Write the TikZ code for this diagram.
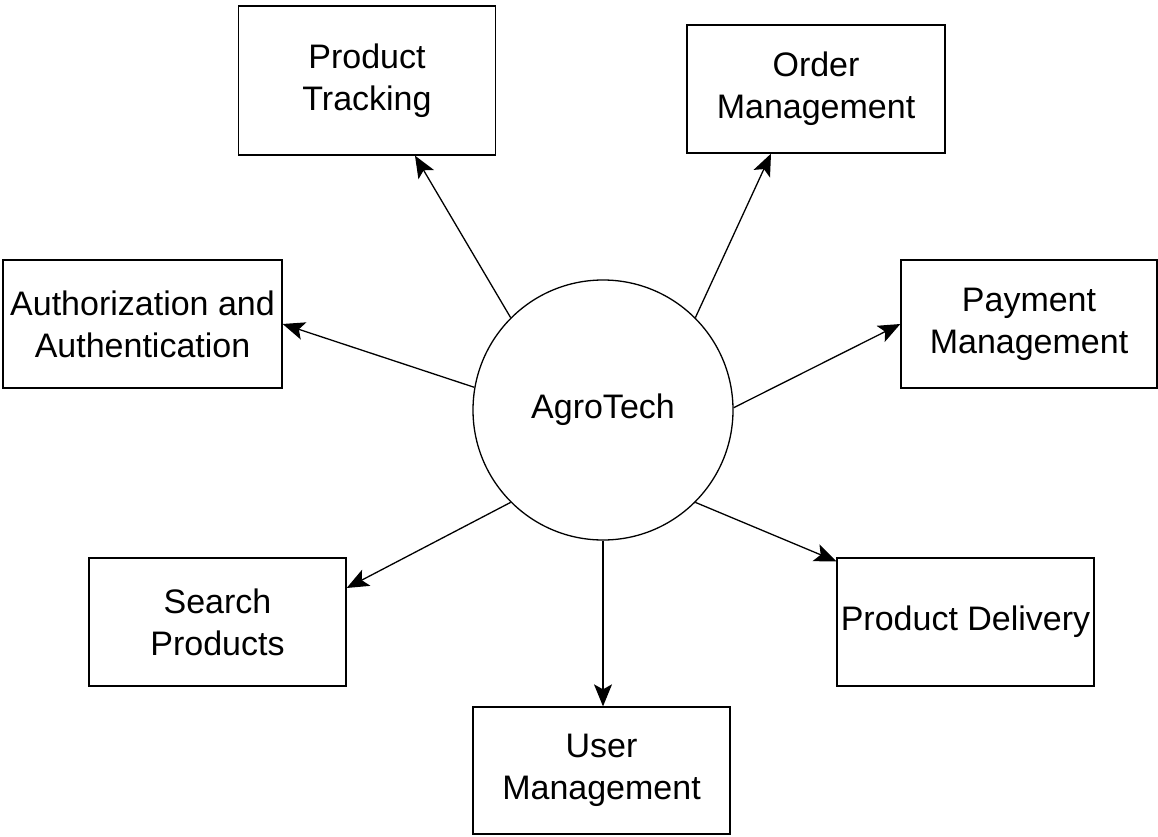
\documentclass[tikz,border=0pt]{standalone}
\usepackage{fontspec}
\setsansfont{Liberation Sans}
\usepackage{tikz}
\usetikzlibrary{arrows.meta,shapes,calc}

\begin{document}
\begin{tikzpicture}[x=1pt,y=-1pt,line width=1.3pt,
  arr/.style={-{Stealth[length=22pt,width=18pt,inset=5pt]}},
  box/.style={draw,rectangle,minimum width=257pt,minimum height=128pt,inner sep=1pt,align=center,font=\fontsize{34}{42}\selectfont}]
\sffamily
\useasboundingbox (0,0) rectangle (1158,837);

\node[shape=circle,draw,minimum size=260pt,font=\fontsize{34}{42}\selectfont] (hub) at (603,410) {AgroTech};

\node[box,minimum height=149pt] (pt) at (367,80.5) {Product\\Tracking};
\node[box,minimum width=258pt] (om) at (816,89) {Order\\Management};
\node[box,minimum width=279pt] (auth) at (142.5,324) {Authorization and\\Authentication};
\node[box,minimum width=256pt] (pay) at (1029,324) {Payment\\Management};
\node[box] (srch) at (217.5,622) {Search\\Products};
\node[box] (del) at (965.5,622) {Product Delivery};
\node[box,minimum height=127pt] (usr) at (601.5,770.5) {User\\Management};

\draw[arr] (hub.135) -- ([xshift=48pt]pt.south);
\draw[arr] (hub.45) -- ([xshift=-45pt]om.south);
\draw[arr] (hub.170) -- (auth.east);
\draw[arr] (hub.1) -- (pay.west);
\draw[arr] (hub.225) -- ([yshift=34pt]srch.east);
\draw[arr] (hub.315) -- ([yshift=-4pt]del.north west);
\draw[arr] (hub.270) -- (hub.270 |- usr.north);
\end{tikzpicture}
\end{document}
